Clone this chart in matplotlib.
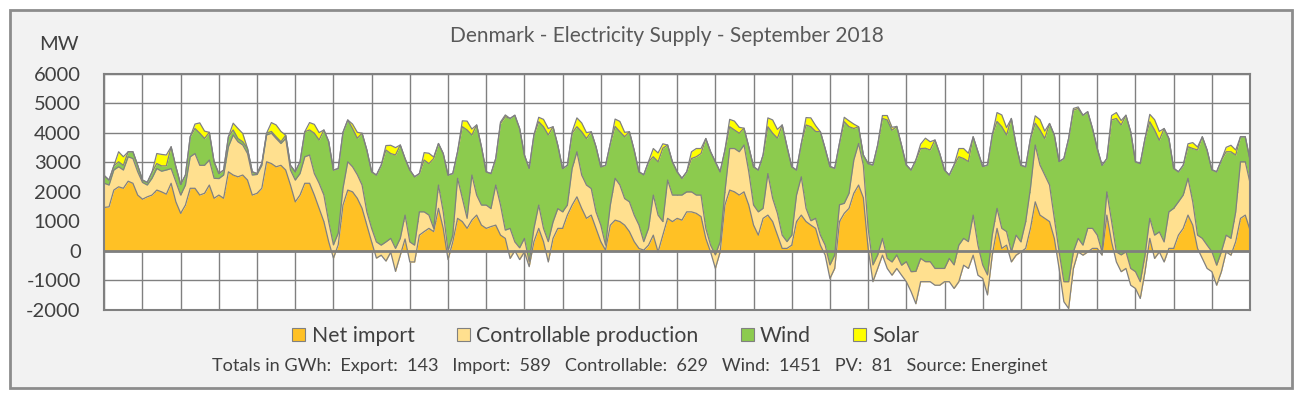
# Denmark - electricity supply, September 2018 (3-hourly values)

import numpy as np
import matplotlib
matplotlib.use("Agg")
import matplotlib.pyplot as plt
from matplotlib.patches import Patch, Rectangle

plt.rcParams['font.family'] = ['Lato', 'DejaVu Sans']

# one row per day, samples at 00, 03, ... 21 h, plus the closing value
net_import = [
    1470, 1490, 2060, 2170, 2120, 2360, 2290, 1890,
    1750, 1830, 1890, 2060, 2000, 1920, 2290, 1660,
    1270, 1550, 2120, 2120, 1890, 1950, 2230, 1780,
    1890, 1780, 2680, 2570, 2510, 2570, 2400, 1890,
    1950, 2120, 3020, 2960, 2850, 2900, 2740, 2230,
    1660, 1890, 2290, 2290, 1890, 1440, 990, 310,
    -250, 200, 1550, 2060, 2000, 1780, 1440, 870,
    300, -250, -150, -350, -50, -700, -150, 400,
    -380, -380, 530, 650, 760, 650, 1440, 760,
    -300, 300, 1100, 990, 760, 1040, 1210, 870,
    760, 820, 870, 530, 420, -260, 0, -300,
    -40, -540, 310, 760, 310, -380, 420, 760,
    760, 1210, 1550, 1830, 1440, 1100, 1210, 760,
    310, 20, 870, 1040, 990, 870, 650, 310,
    80, 20, 190, 530, -40, 530, 1100, 990,
    1100, 1040, 1320, 1320, 1270, 1160, 420, -40,
    -600, -40, 1550, 2060, 2000, 1890, 2000, 1550,
    870, 530, 1100, 1210, 990, 530, 80, 80,
    190, 990, 1210, 990, 870, 760, 190, -150,
    -940, -600, 990, 1270, 1440, 1950, 2230, 1800,
    80, -1050, -600, -150, -600, -830, -600, -830,
    -1050, -1390, -1800, -1050, -1050, -1050, -1170, -1170,
    -1050, -1050, -1280, -1050, -490, -600, -150, -830,
    -940, -1500, -150, 760, 80, 190, -380, -150,
    -40, 80, 760, 1660, 1210, 1100, 990, 420,
    -600, -1730, -1960, -600, -40, -150, -40, 80,
    80, -150, 1210, 300, -380, -710, -600, -1170,
    -1280, -1620, -710, 420, -260, -40, -380, 80,
    80, 530, 760, 1210, 870, 80, -260, -600,
    -710, -1170, -710, -40, -150, 310, 1100, 1210,
    700,
]

controllable = [
    820, 740, 680, 680, 620, 830, 840, 790,
    570, 400, 570, 730, 700, 820, 500, 680,
    620, 680, 1070, 1180, 1010, 950, 850, 680,
    560, 790, 850, 1360, 1190, 1020, 900, 680,
    640, 780, 910, 1030, 960, 740, 1070, 510,
    740, 730, 900, 960, 730, 850, 900, 680,
    450, 400, 570, 960, 850, 800, 790, 450,
    460, 550, 340, 650, 470, 780, 570, 810,
    680, 570, 790, 670, 450, 110, 790, 560,
    300, 230, 1360, 790, 340, 1530, 680, 680,
    790, 610, 1360, 1020, 280, 1020, 300, 400,
    460, 170, 450, 790, 450, 690, 560, 670,
    560, 340, 1240, 1530, 1130, 1130, 900, 560,
    560, 170, 680, 1420, 1240, 900, 1010, 900,
    790, 290, 570, 1360, 1250, 460, 1300, 900,
    790, 850, 680, 680, 620, 730, 340, 230,
    460, 340, 450, 1410, 1470, 1470, 1590, 1130,
    680, 790, 340, 1410, 790, 740, 450, 230,
    340, 900, 1300, 450, 150, 340, 340, 340,
    460, 460, 570, 340, 510, 1130, 1410, 1100,
    680, 570, 460, 570, 340, 450, 460, 340,
    680, 680, 1100, 790, 680, 680, 570, 570,
    450, 790, 800, 1240, 910, 910, 1360, 1020,
    460, 680, 680, 680, 680, 460, 340, 680,
    340, 900, 1360, 1930, 1700, 1470, 1240, 680,
    570, 680, 910, 570, 460, 340, 800, 680,
    450, 110, 790, 700, 340, 570, 570, 570,
    570, 570, 570, 680, 790, 680, 680, 1240,
    1360, 1130, 1130, 1250, 790, 450, 680, 790,
    680, 680, 680, 570, 570, 1010, 1920, 1810,
    1600,
]

wind = [
    260, 170, 140, 170, 160, 170, 230, 220,
    80, 90, 210, 170, 180, 140, 740, 510,
    360, 340, 680, 850, 1090, 910, 940, 560,
    170, 170, 340, 170, 110, 110, 170, 110,
    30, 60, 60, 60, 60, 60, 110, 160,
    280, 400, 850, 850, 1370, 1470, 2210, 2720,
    2540, 2190, 1900, 1420, 1300, 1240, 1760, 2100,
    1920, 2270, 2710, 3120, 2880, 3170, 3170, 1920,
    2440, 2320, 1300, 1760, 1750, 2370, 1410, 1980,
    2570, 2090, 900, 2430, 3000, 1360, 2380, 1980,
    1130, 1190, 900, 2770, 3850, 3730, 4300, 4050,
    2830, 3170, 3170, 2830, 3450, 3620, 3230, 2150,
    1470, 1350, 1200, 850, 1470, 1580, 1930, 2210,
    1980, 2710, 2090, 1760, 1810, 2100, 2380, 2200,
    1810, 2270, 2260, 1300, 1810, 2490, 1190, 1130,
    790, 570, 680, 1130, 1300, 1410, 3050, 3170,
    3160, 2380, 1410, 740, 630, 630, 570, 850,
    1300, 1420, 1810, 1590, 2210, 2550, 3740, 3230,
    2320, 850, 1130, 2830, 3190, 2950, 3510, 3280,
    3340, 2940, 2090, 2770, 2260, 1070, 570, 350,
    2200, 3390, 3730, 4070, 4700, 4470, 4360, 4070,
    3280, 3450, 3780, 3730, 3850, 3790, 4360, 3900,
    3340, 2830, 3390, 3000, 2710, 2720, 2660, 3170,
    3340, 3730, 3400, 2950, 3450, 3280, 4530, 3060,
    2600, 1870, 1690, 740, 1190, 1240, 2090, 2830,
    3060, 4180, 4860, 4800, 4410, 4410, 3960, 3390,
    2940, 2940, 1130, 3440, 4530, 4410, 4630, 4640,
    3730, 4010, 3950, 3280, 3570, 3110, 3850, 2490,
    1360, 1020, 1010, 1070, 1810, 2890, 3450, 3230,
    2780, 3170, 3110, 2830, 2940, 1930, 850, 850,
    780,
]

solar = [
    0, 0, 0, 340, 290, 0, 0, 0,
    0, 0, 0, 340, 390, 370, 0, 0,
    0, 0, 0, 150, 350, 250, 0, 0,
    0, 0, 0, 230, 340, 280, 0, 0,
    0, 0, 0, 300, 400, 350, 0, 0,
    0, 0, 0, 250, 300, 250, 0, 0,
    0, 0, 0, 0, 150, 200, 0, 0,
    0, 0, 0, 150, 280, 250, 0, 0,
    0, 0, 0, 250, 350, 50, 0, 0,
    0, 0, 0, 200, 300, 200, 0, 0,
    0, 0, 0, 50, 60, 0, 0, 0,
    0, 0, 0, 150, 250, 220, 0, 0,
    0, 0, 50, 300, 300, 200, 0, 0,
    0, 0, 0, 250, 350, 150, 0, 0,
    0, 0, 0, 280, 300, 150, 0, 0,
    0, 0, 0, 230, 280, 170, 0, 0,
    0, 0, 0, 250, 300, 200, 0, 0,
    0, 0, 0, 300, 450, 300, 0, 0,
    0, 0, 0, 250, 300, 200, 0, 0,
    0, 0, 0, 150, 200, 150, 0, 0,
    0, 0, 0, 100, 150, 100, 0, 0,
    0, 0, 0, 150, 340, 280, 0, 0,
    0, 0, 0, 280, 340, 280, 0, 0,
    0, 0, 0, 300, 400, 250, 0, 0,
    0, 0, 0, 250, 350, 250, 0, 0,
    0, 0, 0, 60, 50, 0, 0, 0,
    0, 0, 0, 150, 200, 150, 0, 0,
    0, 0, 0, 250, 350, 300, 0, 0,
    0, 0, 0, 100, 200, 100, 0, 0,
    0, 0, 0, 150, 220, 170, 0, 0,
    0,
]

series_labels = ['Net import', 'Controllable production', 'Wind', 'Solar']
series_colors = ['#FFC125', '#FFE08F', '#8CCB4E', '#FFFF00']
yticks = [-2000, -1000, 0, 1000, 2000, 3000, 4000, 5000, 6000]
totals_text = ("Totals in GWh:  Export:  143   Import:  589   Controllable:  629   "
               "Wind:  1451   PV:  81   Source: Energinet")

text_col = '#404040'
line_col = '#808080'

hours = np.arange(0, 721, 3)

# Excel style stacking: each band sits on the cumulative sum of the previous ones
c1 = np.array(net_import, dtype=float)
c2 = c1 + np.array(controllable)
c3 = c2 + np.array(wind)
c4 = c3 + np.array(solar)

fig = plt.figure(figsize=(13.02, 3.98), dpi=100)
fig.patch.set_facecolor('white')
fig.patches.append(Rectangle((10 / 1302, 10 / 398), 1282 / 1302, 378 / 398,
                             transform=fig.transFigure, facecolor='#F2F2F2',
                             edgecolor='#8C8C8C', linewidth=2, zorder=-1))

ax = fig.add_axes([0.0801, 0.2219, 0.8800, 0.5922])
ax.set_zorder(2)
ax.set_facecolor('white')

lower = np.zeros_like(c1)
for upper, col in zip([c1, c2, c3, c4], series_colors):
    ax.fill_between(hours, lower, upper, color=col, linewidth=0, zorder=2)
    lower = upper
for upper in [c1, c2, c3, c4]:
    ax.plot(hours, upper, color=line_col, linewidth=0.9, zorder=3)

ax.axhline(0, color='#7F7F7F', linewidth=2, zorder=4)

ax.set_xlim(0, 720)
ax.set_ylim(-2000, 6000)
ax.set_xticks(np.arange(0, 721, 24))
ax.set_xticklabels([])
ax.set_yticks(yticks)
ax.set_yticklabels([str(v) for v in yticks])
ax.tick_params(axis='both', length=0)
ax.tick_params(axis='y', pad=17, labelsize=14.5, labelcolor=text_col)
ax.grid(True, color=line_col, linewidth=1)
ax.set_axisbelow(True)
for sp in ax.spines.values():
    sp.set_color(line_col)
    sp.set_linewidth(1.5)

fig.text(59 / 1302, 1 - 44 / 398, 'MW', ha='center', va='center',
         fontsize=14.5, color=text_col)
fig.text(667 / 1302, 1 - 36 / 398, 'Denmark - Electricity Supply - September 2018',
         ha='center', va='center', fontsize=15, color='#595959')

handles = [Patch(facecolor=c, edgecolor=line_col, linewidth=0.8) for c in series_colors]
fig.legend(handles, series_labels, ncol=4, loc='center',
           bbox_to_anchor=(606 / 1302, 1 - 336 / 398), frameon=False,
           fontsize=15.3, handlelength=0.6, handleheight=0.6, handletextpad=0.3,
           columnspacing=2.0, labelcolor=text_col)

fig.text(630 / 1302, 1 - 366 / 398, totals_text, ha='center', va='center',
         fontsize=13.1, color=text_col)

fig.savefig('out.png', dpi=100, facecolor=fig.get_facecolor())
